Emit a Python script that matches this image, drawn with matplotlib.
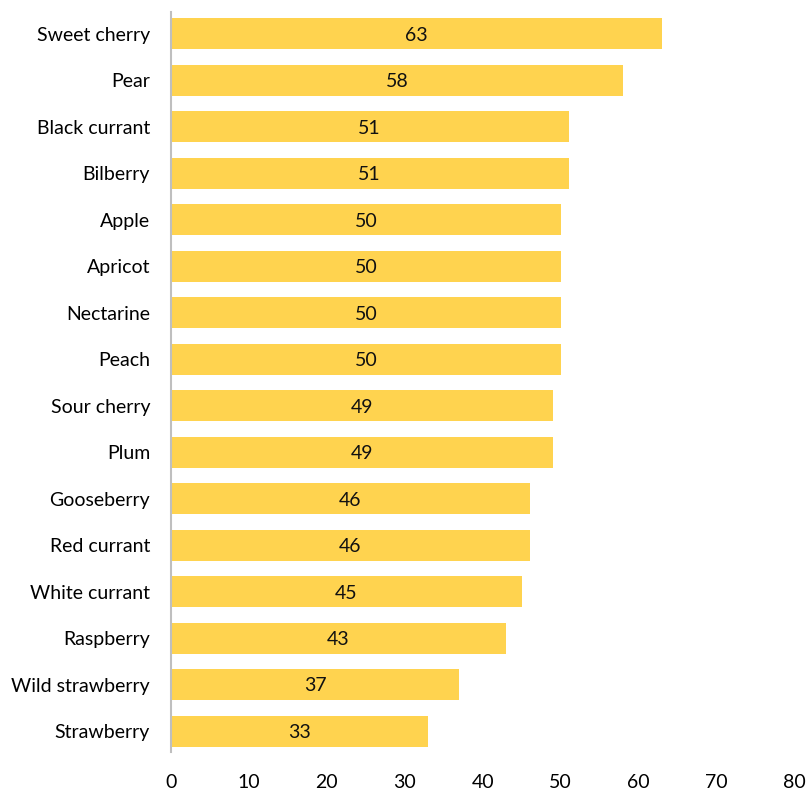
import matplotlib
matplotlib.use('Agg')
import matplotlib.pyplot as plt

fruits = ["Sweet cherry", "Pear", "Black currant", "Bilberry", "Apple", "Apricot",
          "Nectarine", "Peach", "Sour cherry", "Plum", "Gooseberry", "Red currant",
          "White currant", "Raspberry", "Wild strawberry", "Strawberry"]
values = [63, 58, 51, 51, 50, 50, 50, 50, 49, 49, 46, 46, 45, 43, 37, 33]

plt.rcParams['font.family'] = ['Lato', 'DejaVu Sans']

fig = plt.figure(figsize=(8.1, 7.92), dpi=100)
ax = fig.add_axes([0.211, 0.0505, 0.77, 0.9345])

ypos = list(range(len(fruits)))
ax.barh(ypos, values, height=0.67, color='#FFD34F')
for y, v in zip(ypos, values):
    ax.text(v / 2, y + 0.03, str(v), ha='center', va='center', fontsize=14, color='#111111')

ax.set_yticks(ypos)
ax.set_yticklabels(fruits, fontsize=14)
ax.set_ylim(15.45, -0.47)
ax.set_xlim(0, 80)
ax.set_xticks(range(0, 81, 10))
ax.tick_params(axis='x', labelsize=14, length=0, pad=16)
ax.tick_params(axis='y', length=0, pad=15)

for s in ['top', 'right', 'bottom']:
    ax.spines[s].set_visible(False)
ax.spines['left'].set_color('#BFBFBF')
ax.spines['left'].set_linewidth(1.5)

fig.savefig('out.png', dpi=100)
